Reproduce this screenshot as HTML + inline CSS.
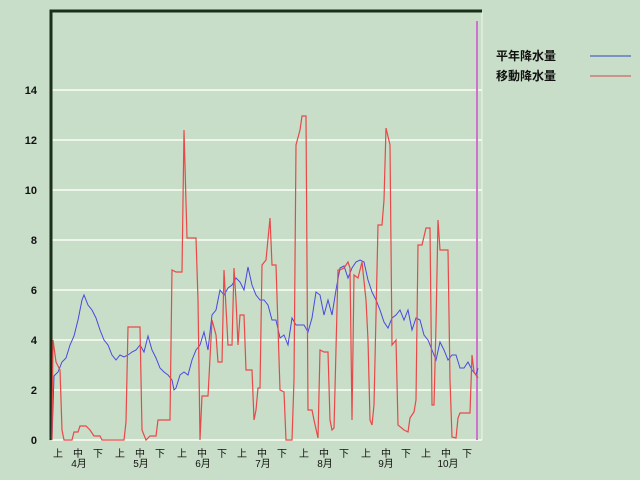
<!DOCTYPE html>
<html><head><meta charset="utf-8"><style>
html,body{margin:0;padding:0;background:#c8dec8;}
svg{display:block;}
text{font-family:"Liberation Sans","Noto Sans CJK JP",sans-serif;}
</style></head><body>
<svg width="640" height="480" viewBox="0 0 640 480" xmlns="http://www.w3.org/2000/svg">
<rect width="640" height="480" fill="#c8dec8"/>
<g stroke="#eef6ea" stroke-width="2">
<line x1="52" y1="90" x2="482" y2="90"/>
<line x1="52" y1="140" x2="482" y2="140"/>
<line x1="52" y1="190" x2="482" y2="190"/>
<line x1="52" y1="240" x2="482" y2="240"/>
<line x1="52" y1="290" x2="482" y2="290"/>
<line x1="52" y1="340" x2="482" y2="340"/>
<line x1="52" y1="390" x2="482" y2="390"/>
<line x1="52" y1="440" x2="482" y2="440"/>
<line x1="482" y1="12" x2="482" y2="440" stroke-width="1"/>
</g>
<path d="M51,440 V11 H482" fill="none" stroke="#1a2e1a" stroke-width="3"/>
<line x1="477" y1="21" x2="477" y2="440" stroke="#d070d0" stroke-width="2"/>
<g font-size="11" font-weight="bold" fill="#111" text-anchor="end">
<text x="37" y="94">14</text><text x="37" y="144">12</text><text x="37" y="194">10</text>
<text x="37" y="244">8</text><text x="37" y="294">6</text><text x="37" y="344">4</text>
<text x="37" y="394">2</text><text x="37" y="444">0</text>
</g>
<g font-size="10" fill="#111" text-anchor="middle">
<text x="58" y="457">上</text><text x="78" y="457">中</text><text x="98" y="457">下</text>
<text x="120" y="457">上</text><text x="140" y="457">中</text><text x="160" y="457">下</text>
<text x="182" y="457">上</text><text x="202" y="457">中</text><text x="222" y="457">下</text>
<text x="242" y="457">上</text><text x="262" y="457">中</text><text x="282" y="457">下</text>
<text x="304" y="457">上</text><text x="324" y="457">中</text><text x="344" y="457">下</text>
<text x="366" y="457">上</text><text x="386" y="457">中</text><text x="406" y="457">下</text>
<text x="426" y="457">上</text><text x="446" y="457">中</text><text x="467" y="457">下</text>
<text x="79" y="467">4月</text><text x="141" y="467">5月</text><text x="203" y="467">6月</text>
<text x="263" y="467">7月</text><text x="325" y="467">8月</text><text x="386" y="467">9月</text>
<text x="448" y="467">10月</text>
</g>
<polyline fill="none" stroke="#4848e0" stroke-width="1" points="52,440 54,376 58,372 62,362 66,358 70,345 74,336 78,320 82,300 84,295 88,305 92,310 96,318 100,330 104,340 108,345 112,355 116,360 120,355 124,357 128,355 132,352 136,350 140,345 144,352 148,336 152,350 156,358 160,368 164,372 168,375 172,380 174,390 176,388 180,375 184,372 188,375 192,360 196,350 200,345 204,332 208,350 212,315 216,310 220,290 224,295 228,288 232,285 236,278 240,282 244,290 248,267 252,285 256,295 260,300 264,300 268,305 272,320 276,320 280,338 284,335 288,345 292,318 296,325 300,325 304,325 308,332 312,318 316,292 320,295 324,315 328,300 332,315 336,290 340,268 344,266 348,278 352,268 356,262 360,260 364,262 368,280 372,292 376,300 380,310 384,322 388,328 392,318 396,315 400,310 404,320 408,310 412,330 416,318 420,320 424,335 428,340 432,350 436,360 440,342 444,350 448,360 452,355 456,355 460,368 464,368 468,362 472,370 476,375 478,368"/>
<polyline fill="none" stroke="#e84848" stroke-width="1.2" points="52,440 53,340 56,362 60,370 62,430 64,440 72,440 74,432 78,432 80,426 86,426 90,430 94,436 100,436 102,440 124,440 126,422 128,327 140,327 142,430 146,440 150,436 156,436 158,420 170,420 172,270 176,272 182,272 184,130 187,238 196,238 198,300 200,440 202,396 208,396 212,320 216,335 218,362 222,362 224,270 228,345 232,345 234,268 236,300 238,345 240,315 244,315 246,370 252,370 254,420 256,410 258,388 260,388 262,265 266,260 270,218 272,265 276,265 280,390 284,392 286,440 292,440 294,380 296,145 300,130 302,116 306,116 308,410 312,410 314,420 318,438 320,350 324,352 328,352 330,420 332,430 334,428 338,270 340,270 344,268 348,262 350,268 352,420 354,275 358,278 362,262 366,300 368,340 370,420 372,425 374,405 378,225 382,225 384,200 386,128 390,145 392,345 396,340 398,425 404,430 408,432 410,418 414,412 416,400 418,245 422,245 426,228 430,228 432,405 434,405 436,325 438,220 440,250 448,250 450,380 452,437 456,438 458,418 460,413 466,413 470,413 472,355 474,372 478,378"/>
<g font-size="12" font-weight="bold" fill="#111">
<text x="496" y="60">平年降水量</text>
<text x="496" y="80">移動降水量</text>
</g>
<line x1="590" y1="56" x2="631" y2="56" stroke="#6078c8" stroke-width="1.5"/>
<line x1="590" y1="76" x2="631" y2="76" stroke="#d07878" stroke-width="1.5"/>
</svg>
</body></html>
